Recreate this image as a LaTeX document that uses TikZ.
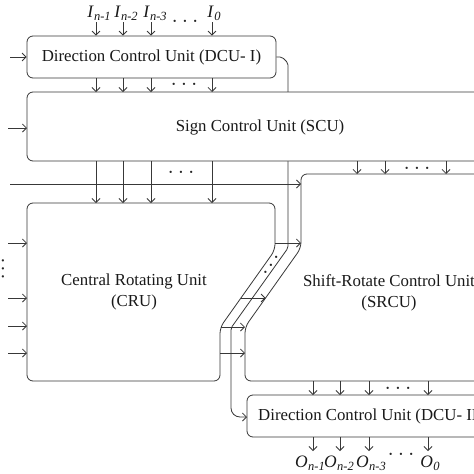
\documentclass[tikz,border=0pt]{standalone}
\usepackage{fontspec}
\setmainfont{Liberation Serif}
\usetikzlibrary{arrows.meta}
\newcommand\mydots[1][7pt]{\smash{\raisebox{-3pt}{\fontsize{9.5}{9.5}\selectfont\textbullet\hspace{#1}\textbullet\hspace{#1}\textbullet}}}
\newcommand\sublab[2]{\textit{#1}\hspace{0.3pt}\raisebox{-3.2pt}{\fontsize{12.5}{12.5}\selectfont\textit{#2}}}
\begin{document}
\begin{tikzpicture}[x=1pt,y=-1pt,
  ln/.style={draw=black!78, line width=0.8pt},
  arr/.style={ln, -{Straight Barb[length=4pt,width=8pt]}},
  unit/.style={ln, rounded corners=6pt, fill=white},
  lbl/.style={font=\fontsize{16.8}{20.5}\selectfont, align=center, inner sep=0pt, text=black!90},
  io/.style={font=\fontsize{17.5}{17.5}\selectfont, inner sep=0pt, anchor=base, text=black!90},
  dt/.style={inner sep=0pt, text=black!85}]
\useasboundingbox (0,0) rectangle (474,474);
\clip (0,0) rectangle (474,474);
\fill[white] (0,0) rectangle (474,474);

% ---------- DCU-I ----------
\node[ln, rounded corners=6pt, minimum width=249pt, minimum height=42pt, lbl] (dcu1) at (151.5,57) {Direction Control Unit (DCU- I)};

% bypass line from DCU-I to DCU-II (drawn first, hidden behind SCU)
\coordinate (d2w) at (247,417);
\draw[arr, rounded corners=2pt] (dcu1.east) -- (282,57) -- (288,63) -- (288,248) -- (231,328) [rounded corners=9pt] -- (231,417) -- (d2w);

% ---------- SCU ----------
\draw[unit] (520,92) -- (27,92) -- (27,161) -- (520,161);
\node[lbl] (scu) at (260,127) {Sign Control Unit (SCU)};

% ---------- CRU ----------
\draw[unit, fill=none] (27,203) -- (275,203) -- (275,250) -- (220,327.5) -- (220,381) -- (27,381) -- cycle;
\node[lbl] (cru) at (134,292) {Central Rotating Unit\\(CRU)};

% ---------- SRCU ----------
\draw[unit, fill=none] (520,174) -- (301,174) -- (301,248) -- (245,327) -- (245,381) -- (520,381);
\node[lbl] (srcu) at (389,293) {Shift-Rotate Control Unit\\(SRCU)};

% ---------- DCU-II ----------
\draw[unit, fill=none] (520,395) -- (247,395) -- (247,437) -- (520,437);
\node[lbl, anchor=west] (dcu2) at (258,416) {Direction Control Unit (DCU- II)};

% ---------- inputs I ----------
\node[io] (i1) at (99,17) {\sublab{I}{n-1}};
\node[io] (i2) at (126,17) {\sublab{I}{n-2}};
\node[io] (i3) at (155,17) {\sublab{I}{n-3}};
\node[io] (i0) at (214,17) {\sublab{I}{0}};
\node[dt] (dtop) at (185,21) {\mydots};
\foreach \x in {96,123,151,212}{
  \coordinate (t) at (\x,22);
  \draw[arr] (t) -- (t |- dcu1.north);
  \coordinate (u) at (\x,78);
  \draw[arr] (u) -- (\x,92);
  \coordinate (v) at (\x,161);
  \draw[arr] (v) -- (\x,203);
}
\node[dt] (d1) at (184,84) {\mydots};
\node[dt] (d2) at (181,172) {\mydots};

% SCU -> SRCU
\foreach \x in {357,385,446}{
  \coordinate (w) at (\x,161);
  \draw[arr] (w) -- (\x,174);
}
\node[dt] (d3) at (417,168) {\mydots};

% SRCU -> DCU-II -> outputs
\foreach \x in {313,340,369,428}{
  \coordinate (p) at (\x,381);
  \draw[arr] (p) -- (\x,395);
  \coordinate (q) at (\x,437);
  \draw[arr] (q) -- (\x,451);
}
\node[dt] (d4) at (398,388) {\mydots};
\node[dt] (d5) at (401,454) {\mydots};
\node[io] (o1) at (310,467) {\sublab{O}{n-1}};
\node[io] (o2) at (339,467) {\sublab{O}{n-2}};
\node[io] (o3) at (371,467) {\sublab{O}{n-3}};
\node[io] (o0) at (430,467) {\sublab{O}{0}};

% ---------- left inputs ----------
\coordinate (la) at (10,57);
\draw[arr] (la) -- (la -| dcu1.west);
\coordinate (lb) at (8,128); \coordinate (scuw) at (27,128);
\draw[arr] (lb) -- (scuw);
\coordinate (lc) at (10,184); \coordinate (srcuw) at (301,184);
\draw[arr] (lc) -- (srcuw);
\foreach \y in {243,298,326,353}{
  \coordinate (l) at (8,\y);
  \draw[arr] (l) -- (27,\y);
}
\node[dt, rotate=90] (dl) at (3,269) {\mydots[5pt]};

% ---------- CRU -> SRCU ----------
\coordinate (a1) at (275,243); \coordinate (b1) at (301,243);
\draw[arr] (a1) -- (b1);
\coordinate (a2) at (240.9,298); \coordinate (b2) at (265.6,298);
\draw[arr] (a2) -- (b2);
\coordinate (a3) at (220.5,327); \coordinate (b3) at (245,327);
\draw[arr] (a3) -- (b3);
\coordinate (a4) at (220,353); \coordinate (b4) at (245,353);
\draw[arr] (a4) -- (b4);
\node[dt, rotate=55] (dc) at (271,265) {\mydots[6pt]};
\end{tikzpicture}
\end{document}
